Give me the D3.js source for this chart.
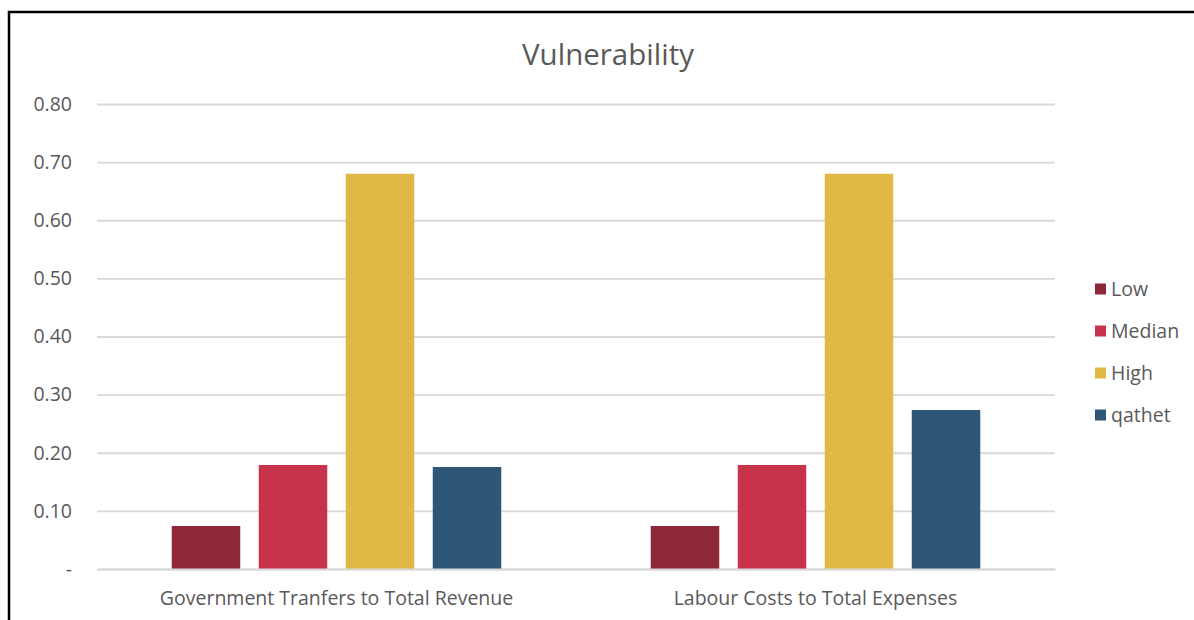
<!DOCTYPE html>
<html><head><meta charset="utf-8">
<script src="https://cdn.jsdelivr.net/npm/d3@7"></script>
<style>body{margin:0;background:#fff;}svg{display:block;}text{font-family:"Open Sans","Liberation Sans",sans-serif;fill:#595959;}</style>
</head><body><svg id="c" width="1194" height="620"></svg>
<script>
const categories = ["Government Tranfers to Total Revenue", "Labour Costs to Total Expenses"];
const seriesNames = ["Low", "Median", "High", "qathet"];
const lowValues = [0.074, 0.074];
const medianValues = [0.179, 0.179];
const highValues = [0.680, 0.680];
const qathetValues = [0.1755, 0.2735];
const seriesColors = ["#8E2737", "#C8334C", "#E0B845", "#2E5676"];
const tickValues = [0, 0.1, 0.2, 0.3, 0.4, 0.5, 0.6, 0.7, 0.8];
const tickLabels = ["-", "0.10", "0.20", "0.30", "0.40", "0.50", "0.60", "0.70", "0.80"];

(function () {
const seriesValues = [lowValues, medianValues, highValues, qathetValues];
const svg = d3.select("#c");
svg.append("rect").attr("x", 9).attr("y", 12).attr("width", 1200).attr("height", 620)
  .attr("fill", "none").attr("stroke", "#000").attr("stroke-width", 2.5);

const pLeft = 97, pRight = 1055, pTop = 104, pBottom = 569;
const y = d3.scaleLinear().domain([0, 0.8]).range([pBottom, pTop]);
const x0 = d3.scaleBand().domain(categories).range([pLeft, pRight]).padding(0);
const x1 = d3.scaleBand().domain(seriesNames).range([0, x0.bandwidth()]).paddingInner(0.2126).paddingOuter(0.859);

const yAxis = d3.axisLeft(y).tickValues(tickValues).tickSize(-(pRight - pLeft)).tickPadding(25)
  .tickFormat((d, i) => tickLabels[i]);
const gy = svg.append("g").attr("transform", `translate(${pLeft},0)`).call(yAxis);
gy.select(".domain").remove();
gy.selectAll(".tick line").attr("stroke", "#D9D9D9").attr("stroke-width", 1.8);
gy.selectAll(".tick text").style("font-size", "19.5px").attr("fill", "#595959");

const groups = svg.append("g").selectAll("g").data(categories).join("g")
  .attr("transform", d => `translate(${x0(d)},0)`);
groups.selectAll("rect").data((c, ci) => seriesNames.map((s, si) => ({s, si, v: seriesValues[si][ci]})))
  .join("rect")
  .attr("x", d => x1(d.s)).attr("width", x1.bandwidth())
  .attr("y", d => y(d.v)).attr("height", d => y(0) - y(d.v))
  .attr("fill", d => seriesColors[d.si]);

const xAxis = d3.axisBottom(x0).tickSize(0).tickPadding(22);
const gx = svg.append("g").attr("transform", `translate(0,${pBottom})`).call(xAxis);
gx.select(".domain").attr("stroke", "#D9D9D9").attr("stroke-width", 1.8);
gx.selectAll(".tick text").style("font-size", "19.5px").attr("fill", "#595959");

svg.append("text").attr("x", 608).attr("y", 65).attr("text-anchor", "middle")
  .style("font-size", "29.5px").text("Vulnerability");

const legend = svg.append("g").selectAll("g").data(seriesNames).join("g")
  .attr("transform", (d, i) => `translate(1095,${289 + i * 42})`);
legend.append("rect").attr("x", 0).attr("y", -5.5).attr("width", 11).attr("height", 11)
  .attr("fill", (d, i) => seriesColors[i]);
legend.append("text").attr("x", 16).attr("y", 0).attr("dy", "0.35em")
  .style("font-size", "19.5px").text(d => d);
})();
</script></body></html>
